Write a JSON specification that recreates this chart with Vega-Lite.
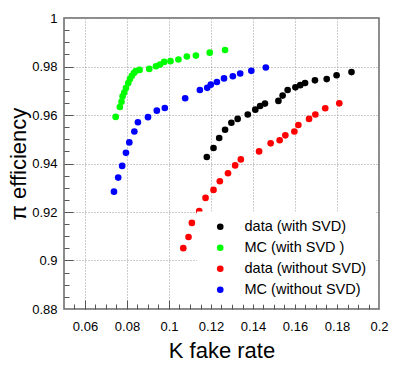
{
  "$schema": "https://vega.github.io/schema/vega-lite/v6.json",
  "width": 315,
  "height": 291,
  "autosize": {"type": "none"},
  "padding": {"left": 64, "top": 18, "right": 20, "bottom": 61},
  "background": "white",
  "config": {
    "view": {"stroke": "#666666", "strokeWidth": 1.5},
    "font": "Liberation Sans",
    "axis": {"labelFont": "Liberation Sans", "titleFont": "Liberation Sans", "labelColor": "#000000", "titleColor": "#000000", "tickColor": "#555555", "domain": false},
    "legend": {"labelFont": "Liberation Sans"}
  },
  "data": {
    "values": [
      {"series": "data (with SVD)", "fake_rate": 0.1180, "efficiency": 0.9427},
      {"series": "data (with SVD)", "fake_rate": 0.1212, "efficiency": 0.9464},
      {"series": "data (with SVD)", "fake_rate": 0.1239, "efficiency": 0.9505},
      {"series": "data (with SVD)", "fake_rate": 0.1267, "efficiency": 0.9539},
      {"series": "data (with SVD)", "fake_rate": 0.1297, "efficiency": 0.9568},
      {"series": "data (with SVD)", "fake_rate": 0.1327, "efficiency": 0.9584},
      {"series": "data (with SVD)", "fake_rate": 0.1375, "efficiency": 0.9602},
      {"series": "data (with SVD)", "fake_rate": 0.1411, "efficiency": 0.9622},
      {"series": "data (with SVD)", "fake_rate": 0.1434, "efficiency": 0.9637},
      {"series": "data (with SVD)", "fake_rate": 0.1457, "efficiency": 0.9647},
      {"series": "data (with SVD)", "fake_rate": 0.1521, "efficiency": 0.9658},
      {"series": "data (with SVD)", "fake_rate": 0.1541, "efficiency": 0.9680},
      {"series": "data (with SVD)", "fake_rate": 0.1565, "efficiency": 0.9703},
      {"series": "data (with SVD)", "fake_rate": 0.1602, "efficiency": 0.9714},
      {"series": "data (with SVD)", "fake_rate": 0.1625, "efficiency": 0.9723},
      {"series": "data (with SVD)", "fake_rate": 0.1648, "efficiency": 0.9732},
      {"series": "data (with SVD)", "fake_rate": 0.1695, "efficiency": 0.9743},
      {"series": "data (with SVD)", "fake_rate": 0.1751, "efficiency": 0.9748},
      {"series": "data (with SVD)", "fake_rate": 0.1798, "efficiency": 0.9764},
      {"series": "data (with SVD)", "fake_rate": 0.1869, "efficiency": 0.9777},
      {"series": "MC (with SVD )", "fake_rate": 0.0746, "efficiency": 0.9592},
      {"series": "MC (with SVD )", "fake_rate": 0.0766, "efficiency": 0.9633},
      {"series": "MC (with SVD )", "fake_rate": 0.0774, "efficiency": 0.9655},
      {"series": "MC (with SVD )", "fake_rate": 0.0779, "efficiency": 0.9677},
      {"series": "MC (with SVD )", "fake_rate": 0.0787, "efficiency": 0.9693},
      {"series": "MC (with SVD )", "fake_rate": 0.0795, "efficiency": 0.9711},
      {"series": "MC (with SVD )", "fake_rate": 0.0806, "efficiency": 0.9732},
      {"series": "MC (with SVD )", "fake_rate": 0.0814, "efficiency": 0.9748},
      {"series": "MC (with SVD )", "fake_rate": 0.0823, "efficiency": 0.9762},
      {"series": "MC (with SVD )", "fake_rate": 0.0833, "efficiency": 0.9773},
      {"series": "MC (with SVD )", "fake_rate": 0.0842, "efficiency": 0.9781},
      {"series": "MC (with SVD )", "fake_rate": 0.0860, "efficiency": 0.9786},
      {"series": "MC (with SVD )", "fake_rate": 0.0906, "efficiency": 0.9790},
      {"series": "MC (with SVD )", "fake_rate": 0.0938, "efficiency": 0.9801},
      {"series": "MC (with SVD )", "fake_rate": 0.0957, "efficiency": 0.9808},
      {"series": "MC (with SVD )", "fake_rate": 0.0977, "efficiency": 0.9819},
      {"series": "MC (with SVD )", "fake_rate": 0.1007, "efficiency": 0.9822},
      {"series": "MC (with SVD )", "fake_rate": 0.1045, "efficiency": 0.9829},
      {"series": "MC (with SVD )", "fake_rate": 0.1085, "efficiency": 0.9841},
      {"series": "MC (with SVD )", "fake_rate": 0.1128, "efficiency": 0.9845},
      {"series": "MC (with SVD )", "fake_rate": 0.1194, "efficiency": 0.9857},
      {"series": "MC (with SVD )", "fake_rate": 0.1267, "efficiency": 0.9868},
      {"series": "data (without SVD)", "fake_rate": 0.1068, "efficiency": 0.9051},
      {"series": "data (without SVD)", "fake_rate": 0.1093, "efficiency": 0.9097},
      {"series": "data (without SVD)", "fake_rate": 0.1109, "efficiency": 0.9155},
      {"series": "data (without SVD)", "fake_rate": 0.1144, "efficiency": 0.9204},
      {"series": "data (without SVD)", "fake_rate": 0.1174, "efficiency": 0.9258},
      {"series": "data (without SVD)", "fake_rate": 0.1212, "efficiency": 0.9291},
      {"series": "data (without SVD)", "fake_rate": 0.1242, "efficiency": 0.9327},
      {"series": "data (without SVD)", "fake_rate": 0.1281, "efficiency": 0.9360},
      {"series": "data (without SVD)", "fake_rate": 0.1315, "efficiency": 0.9392},
      {"series": "data (without SVD)", "fake_rate": 0.1342, "efficiency": 0.9417},
      {"series": "data (without SVD)", "fake_rate": 0.1429, "efficiency": 0.9450},
      {"series": "data (without SVD)", "fake_rate": 0.1484, "efficiency": 0.9483},
      {"series": "data (without SVD)", "fake_rate": 0.1527, "efficiency": 0.9496},
      {"series": "data (without SVD)", "fake_rate": 0.1554, "efficiency": 0.9516},
      {"series": "data (without SVD)", "fake_rate": 0.1597, "efficiency": 0.9532},
      {"series": "data (without SVD)", "fake_rate": 0.1616, "efficiency": 0.9559},
      {"series": "data (without SVD)", "fake_rate": 0.1667, "efficiency": 0.9584},
      {"series": "data (without SVD)", "fake_rate": 0.1697, "efficiency": 0.9602},
      {"series": "data (without SVD)", "fake_rate": 0.1744, "efficiency": 0.9628},
      {"series": "data (without SVD)", "fake_rate": 0.1811, "efficiency": 0.9648},
      {"series": "MC (without SVD)", "fake_rate": 0.0738, "efficiency": 0.9284},
      {"series": "MC (without SVD)", "fake_rate": 0.0758, "efficiency": 0.9342},
      {"series": "MC (without SVD)", "fake_rate": 0.0777, "efficiency": 0.9390},
      {"series": "MC (without SVD)", "fake_rate": 0.0795, "efficiency": 0.9444},
      {"series": "MC (without SVD)", "fake_rate": 0.0811, "efficiency": 0.9487},
      {"series": "MC (without SVD)", "fake_rate": 0.0835, "efficiency": 0.9532},
      {"series": "MC (without SVD)", "fake_rate": 0.0852, "efficiency": 0.9570},
      {"series": "MC (without SVD)", "fake_rate": 0.0900, "efficiency": 0.9591},
      {"series": "MC (without SVD)", "fake_rate": 0.0942, "efficiency": 0.9618},
      {"series": "MC (without SVD)", "fake_rate": 0.0980, "efficiency": 0.9629},
      {"series": "MC (without SVD)", "fake_rate": 0.1077, "efficiency": 0.9669},
      {"series": "MC (without SVD)", "fake_rate": 0.1147, "efficiency": 0.9703},
      {"series": "MC (without SVD)", "fake_rate": 0.1182, "efficiency": 0.9712},
      {"series": "MC (without SVD)", "fake_rate": 0.1199, "efficiency": 0.9725},
      {"series": "MC (without SVD)", "fake_rate": 0.1228, "efficiency": 0.9736},
      {"series": "MC (without SVD)", "fake_rate": 0.1262, "efficiency": 0.9751},
      {"series": "MC (without SVD)", "fake_rate": 0.1304, "efficiency": 0.9760},
      {"series": "MC (without SVD)", "fake_rate": 0.1339, "efficiency": 0.9771},
      {"series": "MC (without SVD)", "fake_rate": 0.1392, "efficiency": 0.9782},
      {"series": "MC (without SVD)", "fake_rate": 0.1461, "efficiency": 0.9796}
    ]
  },
  "resolve": {"axis": {"x": "independent", "y": "independent"}},
  "layer": [
    {
      "mark": {"type": "point", "filled": true, "shape": "circle", "size": 44, "opacity": 1},
      "encoding": {
        "x": {
          "field": "fake_rate", "type": "quantitative",
          "scale": {"domain": [0.05, 0.2], "nice": false, "zero": false},
          "axis": {
            "orient": "bottom", "title": "K fake rate", "values": [0.06, 0.08, 0.1, 0.12, 0.14, 0.16, 0.18, 0.2],
            "format": "~g", "ticks": false, "labelFontSize": 13, "labelPadding": 11, "labelFlush": false,
            "grid": true, "gridColor": "#999999", "gridDash": [1, 2], "gridWidth": 1,
            "titleFontSize": 22, "titleFontWeight": "normal", "titleBaseline": "alphabetic", "titleY": 48, "titleX": 157.5, "titleAlign": "center"
          }
        },
        "y": {
          "field": "efficiency", "type": "quantitative",
          "scale": {"domain": [0.88, 1], "nice": false, "zero": false},
          "axis": {
            "orient": "left", "title": "π efficiency", "values": [0.88, 0.9, 0.92, 0.94, 0.96, 0.98, 1],
            "format": "~g", "ticks": false, "labelFontSize": 13, "labelPadding": 7, "labelFlush": false,
            "grid": true, "gridColor": "#999999", "gridDash": [1, 2], "gridWidth": 1,
            "titleFontSize": 22, "titleFontWeight": "normal", "titleAngle": -90, "titleBaseline": "alphabetic", "titleX": -39, "titleY": 145.5, "titleAlign": "center"
          }
        },
        "color": {
          "field": "series", "type": "nominal",
          "scale": {"domain": ["data (with SVD)", "MC (with SVD )", "data (without SVD)", "MC (without SVD)"], "range": ["#000000", "#00ff00", "#ff0000", "#0000ff"]},
          "legend": {
            "title": null, "orient": "none", "legendX": 133, "legendY": 193.5,
            "fillColor": "white", "padding": 8, "symbolOffset": 8, "symbolType": "circle", "symbolSize": 44,
            "symbolStrokeWidth": 0, "labelFontSize": 14.5, "labelColor": "#000000", "labelOffset": 17, "rowPadding": 6, "labelLimit": 300
          }
        }
      }
    },
    {
      "mark": {"type": "point", "opacity": 0},
      "encoding": {
        "x": {
          "field": "fake_rate", "type": "quantitative",
          "axis": {"orient": "bottom", "title": null, "labels": false, "grid": false, "domain": false, "tickSize": -9, "tickWidth": 1,
            "values": [0.06, 0.08, 0.1, 0.12, 0.14, 0.16, 0.18]}
        },
        "y": {
          "field": "efficiency", "type": "quantitative",
          "axis": {"orient": "left", "title": null, "labels": false, "grid": false, "domain": false, "tickSize": -9, "tickWidth": 1,
            "values": [0.9, 0.92, 0.94, 0.96, 0.98]}
        }
      }
    },
    {
      "mark": {"type": "point", "opacity": 0},
      "encoding": {
        "x": {
          "field": "fake_rate", "type": "quantitative",
          "axis": {"orient": "bottom", "title": null, "labels": false, "grid": false, "domain": false, "tickSize": -5, "tickWidth": 1,
            "values": [0.055, 0.065, 0.07, 0.075, 0.085, 0.09, 0.095, 0.105, 0.11, 0.115, 0.125, 0.13, 0.135, 0.145, 0.15, 0.155, 0.165, 0.17, 0.175, 0.185, 0.19, 0.195]}
        },
        "y": {
          "field": "efficiency", "type": "quantitative",
          "axis": {"orient": "left", "title": null, "labels": false, "grid": false, "domain": false, "tickSize": -5, "tickWidth": 1,
            "values": [0.885, 0.89, 0.895, 0.905, 0.91, 0.915, 0.925, 0.93, 0.935, 0.945, 0.95, 0.955, 0.965, 0.97, 0.975, 0.985, 0.99, 0.995]}
        }
      }
    }
  ]
}
